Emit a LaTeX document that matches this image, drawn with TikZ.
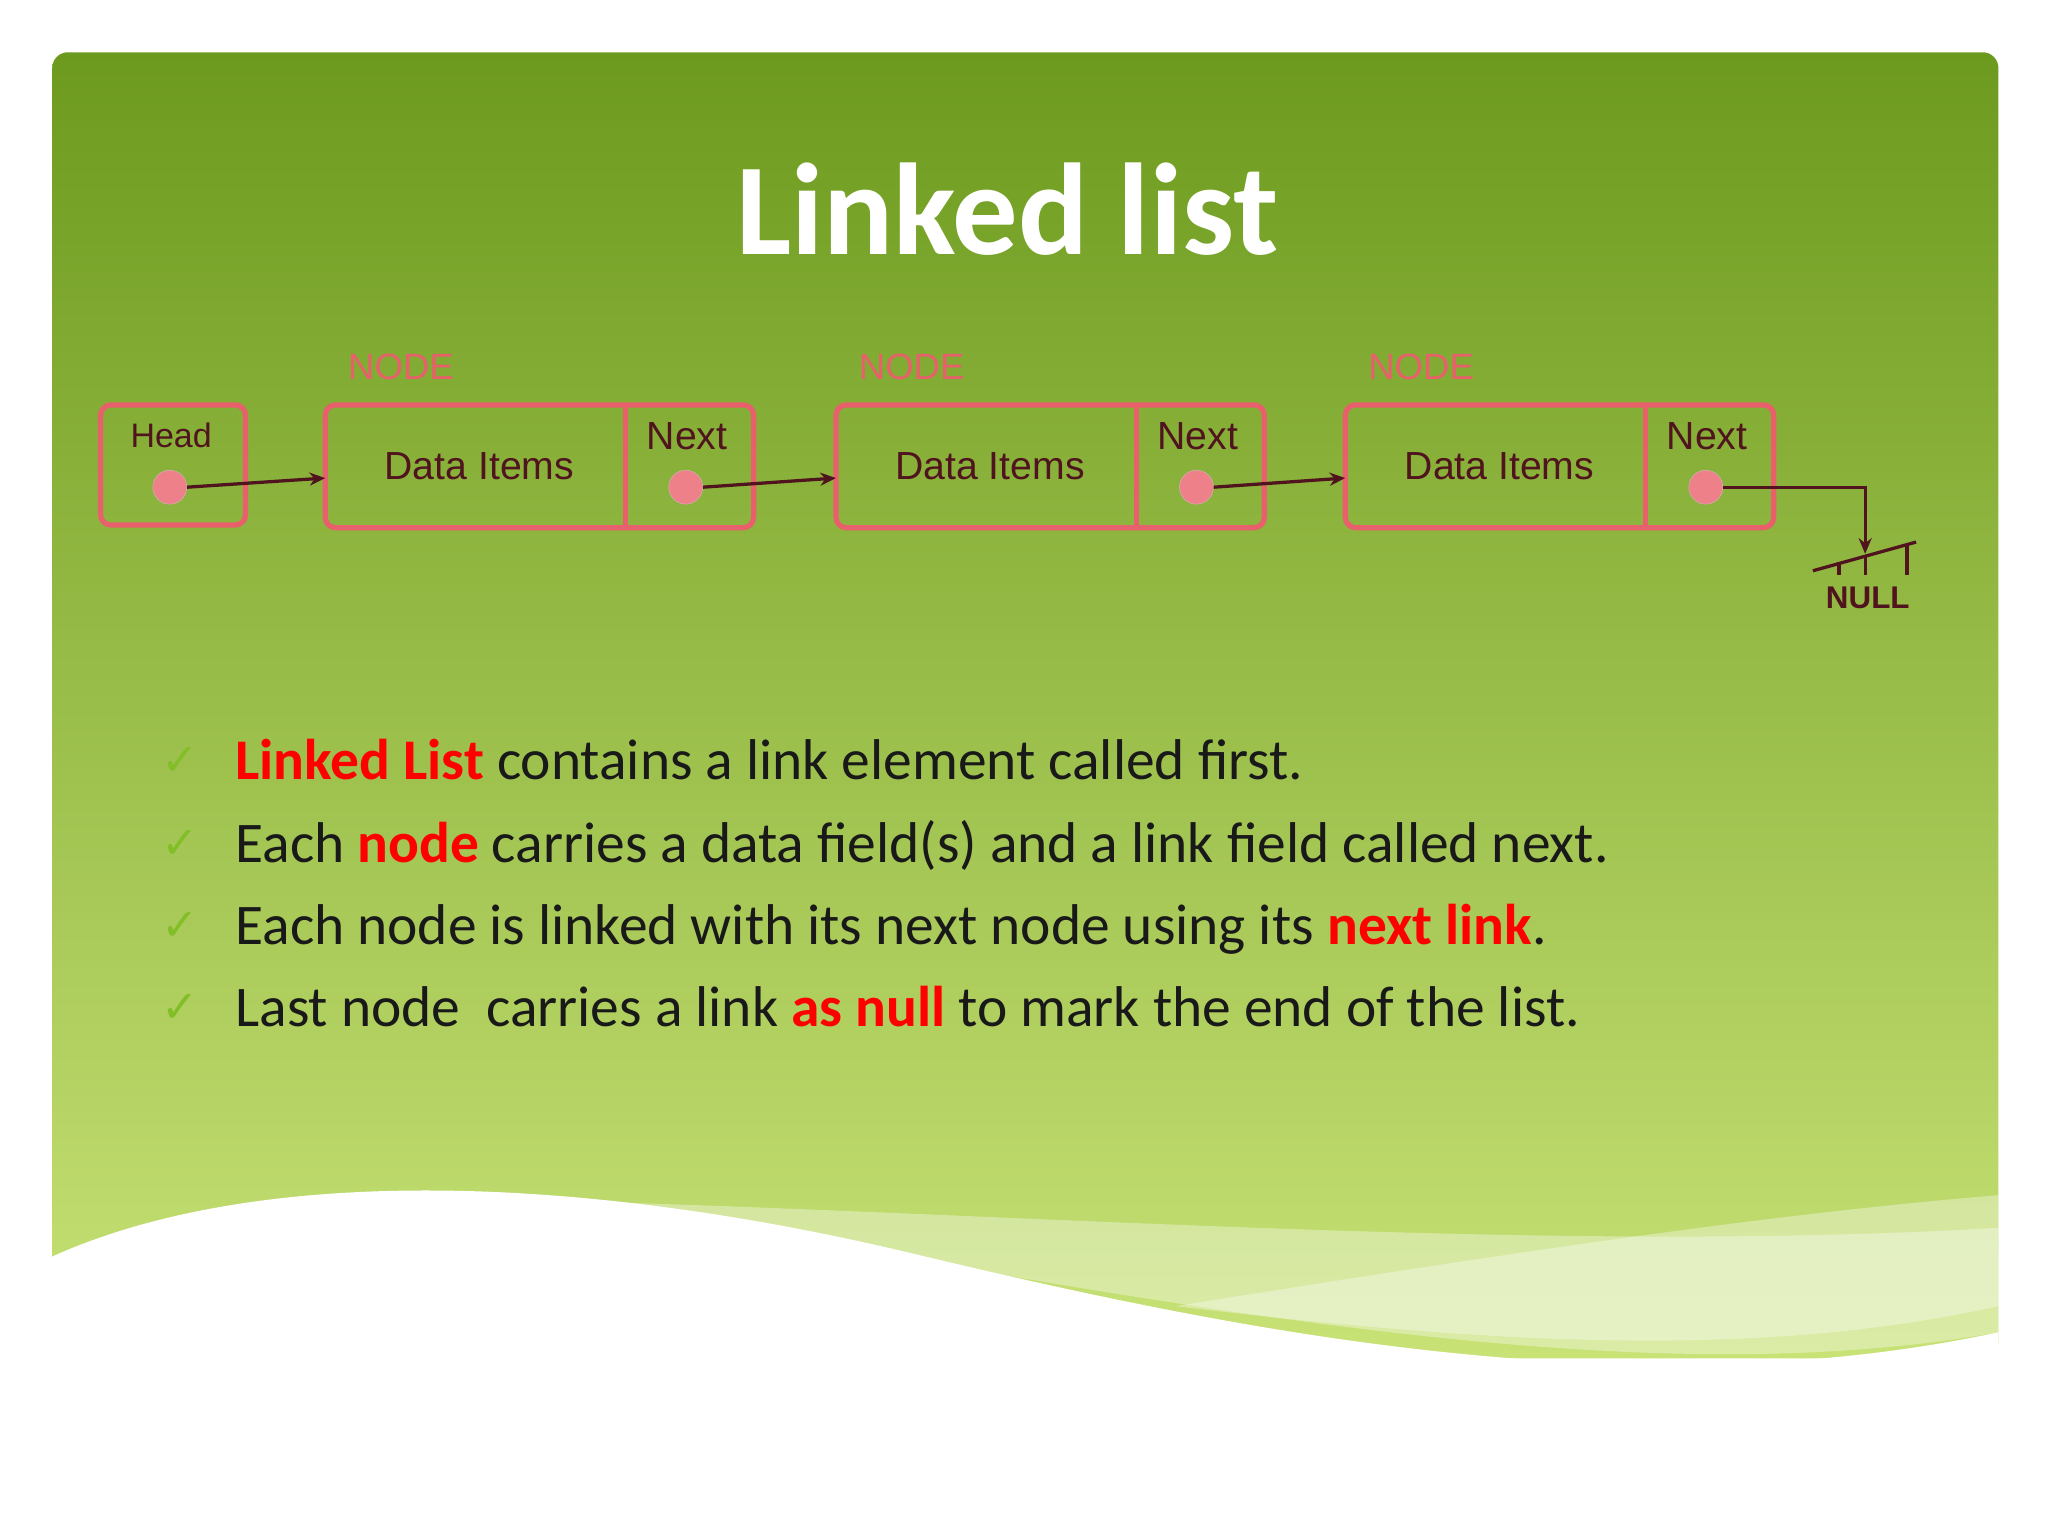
\documentclass[tikz,border=0pt]{standalone}
\usepackage{fontspec}
\setmainfont{Carlito}
\newfontfamily\arial{Liberation Sans}
\newfontfamily\dejavu{DejaVu Sans}
\usetikzlibrary{arrows.meta}
\definecolor{gtop}{RGB}{108,154,30}
\definecolor{gbot}{RGB}{200,226,118}
\definecolor{boxc}{RGB}{232,96,108}
\definecolor{inkc}{RGB}{80,20,30}
\definecolor{redt}{RGB}{255,0,0}
\definecolor{chk}{RGB}{130,190,40}
\tikzset{
  box/.style={draw=boxc,line width=4pt,rounded corners=8pt},
  dot/.style={circle,fill=boxc!80,draw=boxc!60!black!40,minimum size=26pt,inner sep=0pt},
  lab/.style={font=\arial\fontsize{30}{34}\selectfont,text=inkc},
  nodelab/.style={font=\arial\fontsize{28}{32}\selectfont,text=boxc},
  link/.style={draw=inkc,line width=2.5pt,-{Stealth[length=12pt,width=10pt]}},
  bul/.style={anchor=base west,font=\fontsize{44}{52}\selectfont,text=black!90,inner sep=0pt},
}
\begin{document}
\begin{tikzpicture}[x=1pt,y=-1pt]
\useasboundingbox (0,0) rectangle (1568,1176);
\fill[white] (0,0) rectangle (1568,1176);
\shade[top color=gtop,bottom color=gbot,rounded corners=12pt] (40,40) rectangle (1530,1040);
% white wave
\fill[white] (40,962) .. controls (200,890) and (450,900) .. (700,960) .. controls (950,1020) and (1250,1080) .. (1530,1020) -- (1530,1176) -- (40,1176) -- cycle;
\fill[white,opacity=0.35] (450,920) .. controls (800,930) and (1200,960) .. (1530,940) -- (1530,1020) .. controls (1250,1070) and (900,1000) .. (450,920) -- cycle;
\fill[white,opacity=0.35] (900,1000) .. controls (1150,960) and (1350,930) .. (1530,915) -- (1530,1000) .. controls (1350,1040) and (1150,1030) .. (900,1000) -- cycle;
% title
\node[font=\bfseries\fontsize{100}{114}\selectfont,text=white] (title) at (771,160) {Linked list};
% boxes
\draw[box] (77,310) rectangle (188,402);
\node[lab,font=\arial\fontsize{26}{30}\selectfont] (hl) at (131,333) {Head};
\node[dot] (h) at (130,373) {};
\foreach \i/\x in {1/249,2/640,3/1030}{
  \draw[box] (\x,310) rectangle ({\x+328},404);
  \draw[boxc,line width=4pt] ({\x+230},310) -- ({\x+230},404);
  \node[lab] (d\i) at ({\x+118},357) {Data Items};
  \node[lab] (nl\i) at ({\x+277},334) {Next};
  \node[dot] (c\i) at ({\x+276},373) {};
  \node[nodelab] (nd\i) at ({\x+58},281) {NODE};
}
\coordinate (b1) at (249,366);
\coordinate (b2) at (640,366);
\coordinate (b3) at (1030,366);
\draw[link] (h.east) -- (b1);
\draw[link] (c1.east) -- (b2);
\draw[link] (c2.east) -- (b3);
\coordinate (corner) at (1428,373);
\coordinate (gnd) at (1428,424);
\draw[link] (c3.east) -- (corner) -- (gnd);
\draw[inkc,line width=2.5pt] (1388,437) -- (1467,415);
\draw[inkc,line width=2.5pt] (1408,430) -- (1408,440) (1428,425) -- (1428,440) (1460,417) -- (1460,440);
\node[lab,font=\arial\bfseries\fontsize{24}{28}\selectfont] (null) at (1430,458) {NULL};
% bullets
\foreach \y in {594,657,720,783}{\node[anchor=base,text=chk,font=\dejavu\fontsize{34}{40}\selectfont] at (138,\y) {✓};}
\node[bul] (t1) at (180,597) {\textcolor{redt}{\bfseries Linked List} contains a link element called first.};
\node[bul] (t2) at (180,660) {Each \textcolor{redt}{\bfseries node} carries a data field(s) and a link field called next.};
\node[bul] (t3) at (180,723) {Each node is linked with its next node using its \textcolor{redt}{\bfseries next link}.};
\node[bul] (t4) at (180,786) {Last node\ \ carries a link \textcolor{redt}{\bfseries as null} to mark the end of the list.};
\end{tikzpicture}
\end{document}
